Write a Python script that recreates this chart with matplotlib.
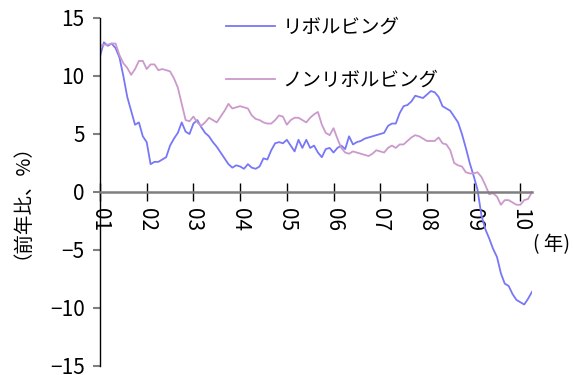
import numpy as np
import matplotlib
matplotlib.use("Agg")
import matplotlib.pyplot as plt

plt.rcParams['font.family'] = ['Noto Sans CJK JP', 'DejaVu Sans']

# 月次データ 2001年1月〜2010年4月 (前年比, %)
start_year = 2001
revolving = [
    11.7, 12.9, 12.6, 12.8, 12.4, 11.6, 10.0, 8.2, 7.0, 5.8, 6.0, 4.8,   # 01
    4.3, 2.4, 2.6, 2.6, 2.8, 3.0, 4.0, 4.6, 5.1, 6.0, 5.2, 5.0,          # 02
    5.9, 6.2, 5.6, 5.1, 4.8, 4.3, 3.9, 3.4, 2.9, 2.4, 2.1, 2.3,          # 03
    2.2, 2.0, 2.4, 2.1, 2.0, 2.2, 2.9, 2.8, 3.6, 4.2, 4.3, 4.2,          # 04
    4.5, 4.0, 3.5, 4.5, 3.8, 4.5, 3.8, 4.0, 3.4, 3.0, 3.7, 3.8,          # 05
    3.4, 3.8, 4.0, 3.7, 4.8, 4.1, 4.3, 4.4, 4.6, 4.7, 4.8, 4.9,          # 06
    5.0, 5.1, 5.7, 5.9, 5.9, 6.8, 7.4, 7.5, 7.8, 8.3, 8.2, 8.1,          # 07
    8.4, 8.7, 8.6, 8.2, 7.4, 7.2, 7.0, 6.5, 6.0, 5.0, 3.8, 2.5,          # 08
    1.4, 0.2, -2.0, -3.2, -4.0, -4.9, -5.6, -7.0, -7.9, -8.1, -8.8, -9.3,  # 09
    -9.5, -9.7, -9.2, -8.6,                                          # 10
]
non_revolving = [
    12.6, 12.7, 12.7, 12.8, 12.8, 11.8, 11.1, 10.7, 10.1, 10.6, 11.3, 11.3,
    10.6, 11.0, 11.0, 10.5, 10.6, 10.5, 10.4, 9.8, 9.0, 7.6, 6.2, 6.1,
    6.5, 6.0, 5.7, 6.0, 6.4, 6.2, 6.0, 6.5, 7.0, 7.6, 7.2, 7.3,
    7.4, 7.3, 7.2, 6.6, 6.3, 6.2, 6.0, 5.9, 5.9, 6.2, 6.6, 6.5,
    5.8, 6.2, 6.4, 6.4, 6.2, 6.0, 6.4, 6.7, 6.9, 5.8, 5.1, 4.9,
    5.5, 4.6, 3.8, 3.4, 3.3, 3.5, 3.4, 3.3, 3.2, 3.1, 3.3, 3.6,
    3.5, 3.4, 3.8, 4.0, 3.8, 4.1, 4.1, 4.4, 4.7, 4.9, 4.8, 4.6,
    4.4, 4.4, 4.4, 4.7, 4.2, 4.1, 3.6, 2.5, 2.3, 2.2, 1.7, 1.6,
    1.6, 1.7, 1.3, 0.6, -0.2, -0.1, -0.4, -1.1, -0.7, -0.7, -0.9, -1.1,
    -1.1, -0.7, -0.6, 0.0,
]
series_names = ['リボルビング', 'ノンリボルビング']
year_ticks = list(range(2001, 2011))
year_labels = ['%02d' % (y % 100) for y in year_ticks]
y_ticks = [-15, -10, -5, 0, 5, 10, 15]

blue = '#7777F7'
pink = '#CC99CC'
axis_gray = '#7F7F7F'

fig = plt.figure(figsize=(5.73, 3.75), dpi=100)
ax = fig.add_axes([100 / 573, 1 - 366 / 375, 432 / 573, 348 / 375])

x = start_year + np.arange(len(revolving)) / 12.0
ax.plot(x, revolving, color=blue, lw=1.3, label=series_names[0])
ax.plot(x, non_revolving, color=pink, lw=1.3, label=series_names[1])

ax.set_xlim(start_year, start_year + (len(revolving) - 1) / 12.0)
ax.set_ylim(-15, 15)

ax.spines['top'].set_visible(False)
ax.spines['right'].set_visible(False)
ax.spines['bottom'].set_position(('data', 0))
ax.spines['bottom'].set_color(axis_gray)
ax.spines['bottom'].set_linewidth(1.8)
ax.spines['left'].set_color('black')
ax.spines['left'].set_linewidth(1.0)

ax.set_yticks(y_ticks)
ax.set_yticklabels([str(v).replace('-', '\u2212') for v in y_ticks])
ax.tick_params(axis='y', direction='out', length=5, width=1.5, color=axis_gray,
               labelsize=15, pad=6)
ax.set_xticks(year_ticks)
ax.set_xticklabels(year_labels, rotation=270, va='top', ha='center')
ax.tick_params(axis='x', direction='inout', length=13, width=1.0, color='black',
               labelsize=15, pad=5)

ax.text(-88 / 432, 0.5, '（前年比、%）', transform=ax.transAxes, rotation=90,
        ha='center', va='center', fontsize=14)
fig.text(533 / 573, 1 - 245 / 375, '( 年)', ha='left', va='center', fontsize=14)

leg = ax.legend(loc='upper left', bbox_to_anchor=(226 / 573, 1 - 17 / 375),
                bbox_transform=fig.transFigure, frameon=False, fontsize=14,
                handlelength=2.5, handletextpad=0.4, labelspacing=1.65,
                borderpad=0, borderaxespad=0)

fig.savefig('out.png', dpi=100, facecolor='white')
